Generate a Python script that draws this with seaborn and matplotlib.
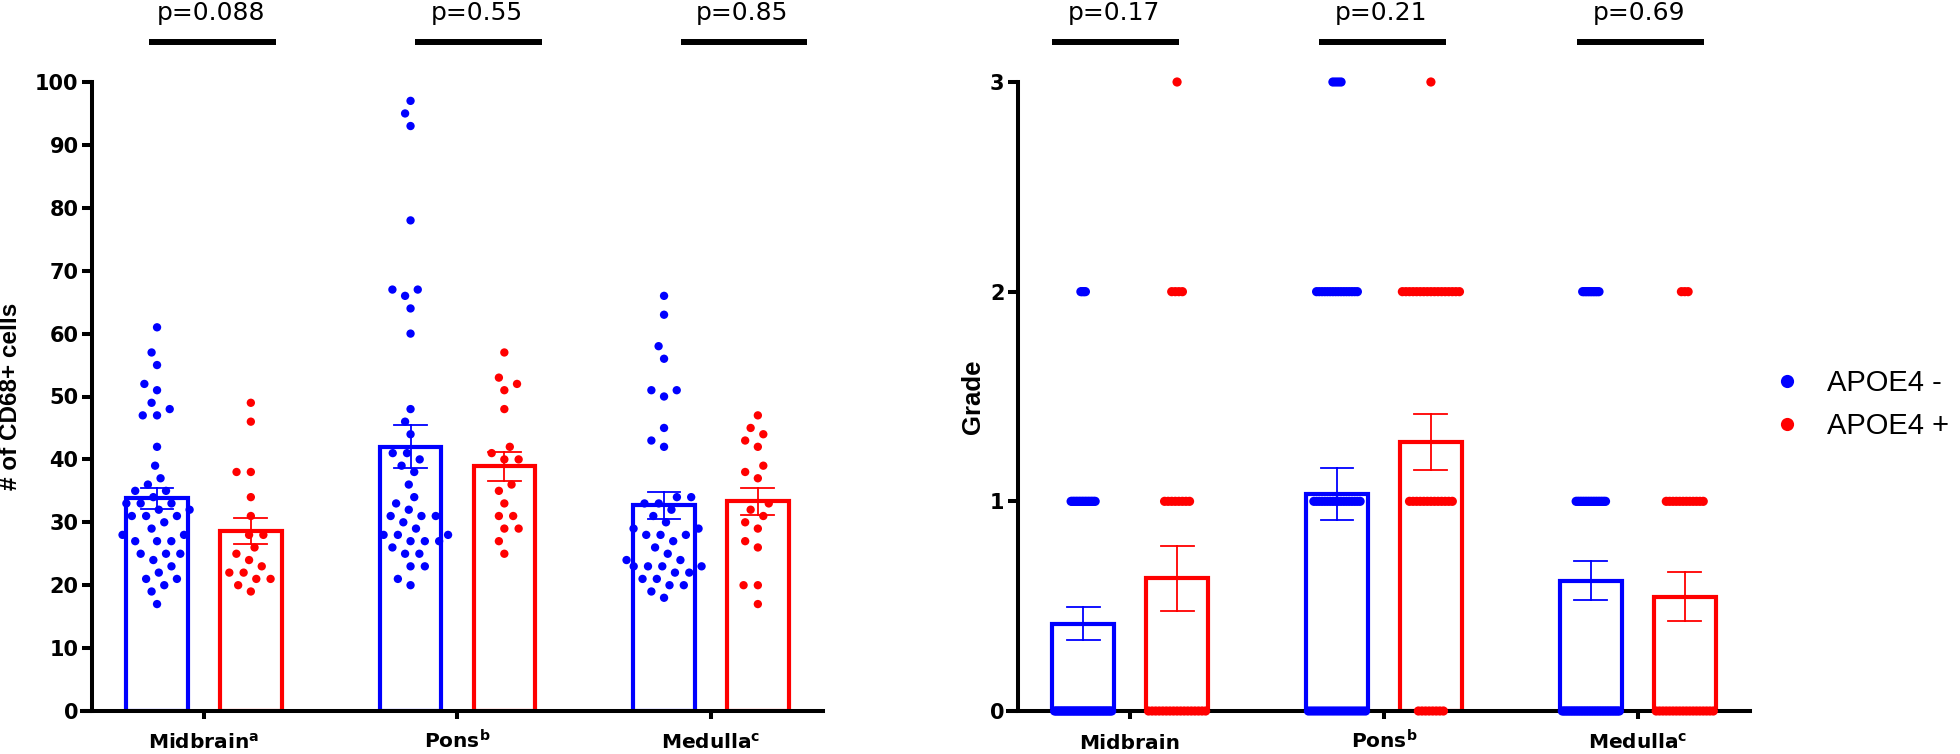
import numpy as np
import pandas as pd
import matplotlib
matplotlib.use("Agg")
import matplotlib.pyplot as plt
import matplotlib.transforms as mtransforms
from matplotlib.lines import Line2D
import seaborn as sns

# ---------------- data ----------------
regions = ["Midbrain", "Pons", "Medulla"]
left_tick_labels = [r"Midbrain$^{\mathregular{a}}$", r"Pons$^{\mathregular{b}}$", r"Medulla$^{\mathregular{c}}$"]
right_tick_labels = ["Midbrain", r"Pons$^{\mathregular{b}}$", r"Medulla$^{\mathregular{c}}$"]
groups = ["APOE4 -", "APOE4 +"]
group_colors = ["#0000FF", "#FF0000"]

cd68_midbrain_neg = [61, 57, 55, 52, 51, 49, 48, 47, 47, 42, 39, 37, 36, 35, 35, 34, 33, 33, 33,
                     32, 32, 31, 31, 31, 30, 29, 28, 28, 27, 27, 27, 25, 25, 25, 24, 23, 22, 21,
                     21, 20, 19, 17]
cd68_midbrain_pos = [49, 46, 38, 38, 34, 31, 28, 28, 26, 25, 24, 23, 22, 22, 21, 21, 20, 19]
cd68_pons_neg = [97, 95, 93, 78, 67, 67, 66, 64, 60, 48, 46, 44, 41, 41, 40, 39, 38, 36, 34, 33,
                 32, 31, 31, 31, 30, 29, 28, 28, 28, 27, 27, 27, 26, 25, 25, 23, 23, 21, 20]
cd68_pons_pos = [57, 53, 52, 51, 48, 42, 41, 40, 40, 36, 35, 33, 31, 31, 29, 29, 27, 25]
cd68_medulla_neg = [66, 63, 58, 56, 51, 51, 50, 45, 43, 42, 34, 34, 33, 33, 32, 31, 30, 29, 29,
                    28, 28, 28, 27, 26, 25, 24, 24, 23, 23, 23, 23, 22, 22, 21, 21, 20, 20, 19, 18]
cd68_medulla_pos = [47, 45, 44, 43, 42, 39, 38, 37, 33, 32, 31, 30, 29, 27, 26, 20, 20, 17]

grade_levels = [0, 1, 2, 3]
grade_counts_midbrain_neg = [39, 17, 4, 0]
grade_counts_midbrain_pos = [17, 8, 4, 1]
grade_counts_pons_neg = [22, 18, 16, 4]
grade_counts_pons_pos = [8, 13, 17, 1]
grade_counts_medulla_neg = [36, 19, 11, 0]
grade_counts_medulla_pos = [18, 12, 3, 0]

p_values_left = ["p=0.088", "p=0.55", "p=0.85"]
p_values_right = ["p=0.17", "p=0.21", "p=0.69"]

left_yticks = [0, 10, 20, 30, 40, 50, 60, 70, 80, 90, 100]
right_yticks = [0, 1, 2, 3]
left_ylabel = "# of CD68+ cells"
right_ylabel = "Grade"

cd68 = {
    ("Midbrain", "APOE4 -"): cd68_midbrain_neg, ("Midbrain", "APOE4 +"): cd68_midbrain_pos,
    ("Pons", "APOE4 -"): cd68_pons_neg, ("Pons", "APOE4 +"): cd68_pons_pos,
    ("Medulla", "APOE4 -"): cd68_medulla_neg, ("Medulla", "APOE4 +"): cd68_medulla_pos,
}
grade_counts = {
    ("Midbrain", "APOE4 -"): grade_counts_midbrain_neg, ("Midbrain", "APOE4 +"): grade_counts_midbrain_pos,
    ("Pons", "APOE4 -"): grade_counts_pons_neg, ("Pons", "APOE4 +"): grade_counts_pons_pos,
    ("Medulla", "APOE4 -"): grade_counts_medulla_neg, ("Medulla", "APOE4 +"): grade_counts_medulla_pos,
}

# ---------------- layout / style ----------------
W, H, DPI = 1960, 754, 100
XLIM = (-0.481, 2.442)
SHIFT = [-0.185, 0.185]           # dodge of the two genotype bars
PX_PER_UNIT = 741 / (XLIM[1] - XLIM[0])
LINE_W = 57 / PX_PER_UNIT         # max spread of a row of grade points
PBAR_LEFT = [0.033, 1.083, 2.130]
PBAR_RIGHT = [-0.059, 0.994, 2.012]
PBAR_HALF = 0.25
palette = dict(zip(groups, group_colors))

plt.rcParams["font.family"] = ["DejaVu Sans"]

fig = plt.figure(figsize=(W / DPI, H / DPI), dpi=DPI)


def px_axes(x0, x1, ytop, ybot):
    return [x0 / W, 1 - ybot / H, (x1 - x0) / W, (ybot - ytop) / H]


axL = fig.add_axes(px_axes(82, 823, 82, 711))
axR = fig.add_axes(px_axes(1008, 1750, 82, 711))

# ---------------- left panel: CD68+ cells ----------------
rows = []
for i, r in enumerate(regions):
    for j, g in enumerate(groups):
        for v in cd68[(r, g)]:
            rows.append({"xpos": i + SHIFT[j], "group": g, "value": v})
dfL = pd.DataFrame(rows)

sns.barplot(data=dfL, x="xpos", y="value", hue="group", hue_order=groups, palette=palette,
            native_scale=True, dodge=False, width=0.657, fill=False, linewidth=3.0,
            errorbar="se", capsize=0.35, err_kws={"linewidth": 1.3, "zorder": 4},
            legend=False, ax=axL, orient="x")
sns.swarmplot(data=dfL, x="xpos", y="value", hue="group", hue_order=groups, palette=palette,
              native_scale=True, dodge=False, size=6.0, linewidth=3.8, edgecolor="none",
              legend=False, ax=axL, orient="x", warn_thresh=1.0)
for coll in axL.collections:
    coll.set_edgecolor("none")

# ---------------- right panel: grade ----------------
rows = []
pts_x, pts_y, pts_h = [], [], []
for i, r in enumerate(regions):
    for j, g in enumerate(groups):
        counts = grade_counts[(r, g)]
        vals = np.repeat(grade_levels, counts)
        for v in vals:
            rows.append({"xpos": i + SHIFT[j], "group": g, "value": v})
        step = LINE_W / (max(counts) - 1)
        for lvl, n in zip(grade_levels, counts):
            offs = (np.arange(n) - (n - 1) / 2) * step
            pts_x.extend(i + SHIFT[j] + offs)
            pts_y.extend([lvl] * n)
            pts_h.extend([g] * n)
dfR = pd.DataFrame(rows)

sns.barplot(data=dfR, x="xpos", y="value", hue="group", hue_order=groups, palette=palette,
            native_scale=True, dodge=False, width=0.657, fill=False, linewidth=3.0,
            errorbar="se", capsize=0.35, err_kws={"linewidth": 1.3, "zorder": 4},
            legend=False, ax=axR, orient="x")
sns.scatterplot(x=pts_x, y=pts_y, hue=pts_h, hue_order=groups, palette=palette, s=44,
                linewidth=0, legend=False, ax=axR, clip_on=False, zorder=3)


# ---------------- axes styling ----------------
def style_axis(ax, ymax, yticks, xticklabels, ylabel, ylabel_size, ylabel_x):
    ax.set_xlim(*XLIM)
    ax.set_ylim(0, ymax)
    for s in ["top", "right"]:
        ax.spines[s].set_visible(False)
    ax.spines["left"].set_position(("axes", 10 / 741))
    ax.spines["left"].set_bounds(0, ymax)
    for s in ["left", "bottom"]:
        ax.spines[s].set_linewidth(2.9)
        ax.spines[s].set_color("black")
    ax.set_xticks(range(len(regions)))
    ax.set_xticklabels(xticklabels, fontweight="bold", fontsize=14.5, va="baseline")
    ax.set_yticks(yticks)
    ax.set_yticklabels([str(t) for t in yticks], fontweight="bold", fontsize=15)
    ax.tick_params(axis="x", length=5.8, width=2.9, pad=21.5, color="black")
    ax.tick_params(axis="y", length=7.2, width=2.9, pad=2.5, color="black")
    ax.set_xlabel("")
    ax.set_ylabel(ylabel, fontsize=ylabel_size, fontweight="bold", family="Liberation Sans",
                  va="center")
    ax.yaxis.set_label_coords(ylabel_x, 0.5)
    ax.patch.set_alpha(0)


style_axis(axL, 100, left_yticks, left_tick_labels, left_ylabel, 17.5, (10.5 - 82) / 741)
style_axis(axR, 3, right_yticks, right_tick_labels, right_ylabel, 18.5, (973 - 1008) / 742)

# ---------------- p-value annotations ----------------
for ax, centers, texts in [(axL, PBAR_LEFT, p_values_left), (axR, PBAR_RIGHT, p_values_right)]:
    trans = mtransforms.blended_transform_factory(ax.transData, fig.transFigure)
    for c, txt in zip(centers, texts):
        ax.add_line(Line2D([c - PBAR_HALF, c + PBAR_HALF], [1 - 42 / H, 1 - 42 / H],
                           transform=trans, color="black", lw=4.3,
                           solid_capstyle="butt", clip_on=False))
        ax.text(c - 0.006, 1 - 20 / H, txt, transform=trans, ha="center", va="baseline",
                fontsize=18, family="DejaVu Sans", clip_on=False)

# ---------------- legend ----------------
handles = [Line2D([], [], marker="o", ls="none", markersize=9.5, markerfacecolor=c,
                  markeredgewidth=0) for c in group_colors]
fig.legend(handles, groups, loc="center left", bbox_to_anchor=(1773 / W, 1 - 404.5 / H),
           frameon=False, prop={"family": "Liberation Sans", "size": 21},
           handlelength=0.95, handletextpad=0.9, labelspacing=0.5, borderpad=0,
           borderaxespad=0)

fig.savefig("out.png", dpi=DPI)
